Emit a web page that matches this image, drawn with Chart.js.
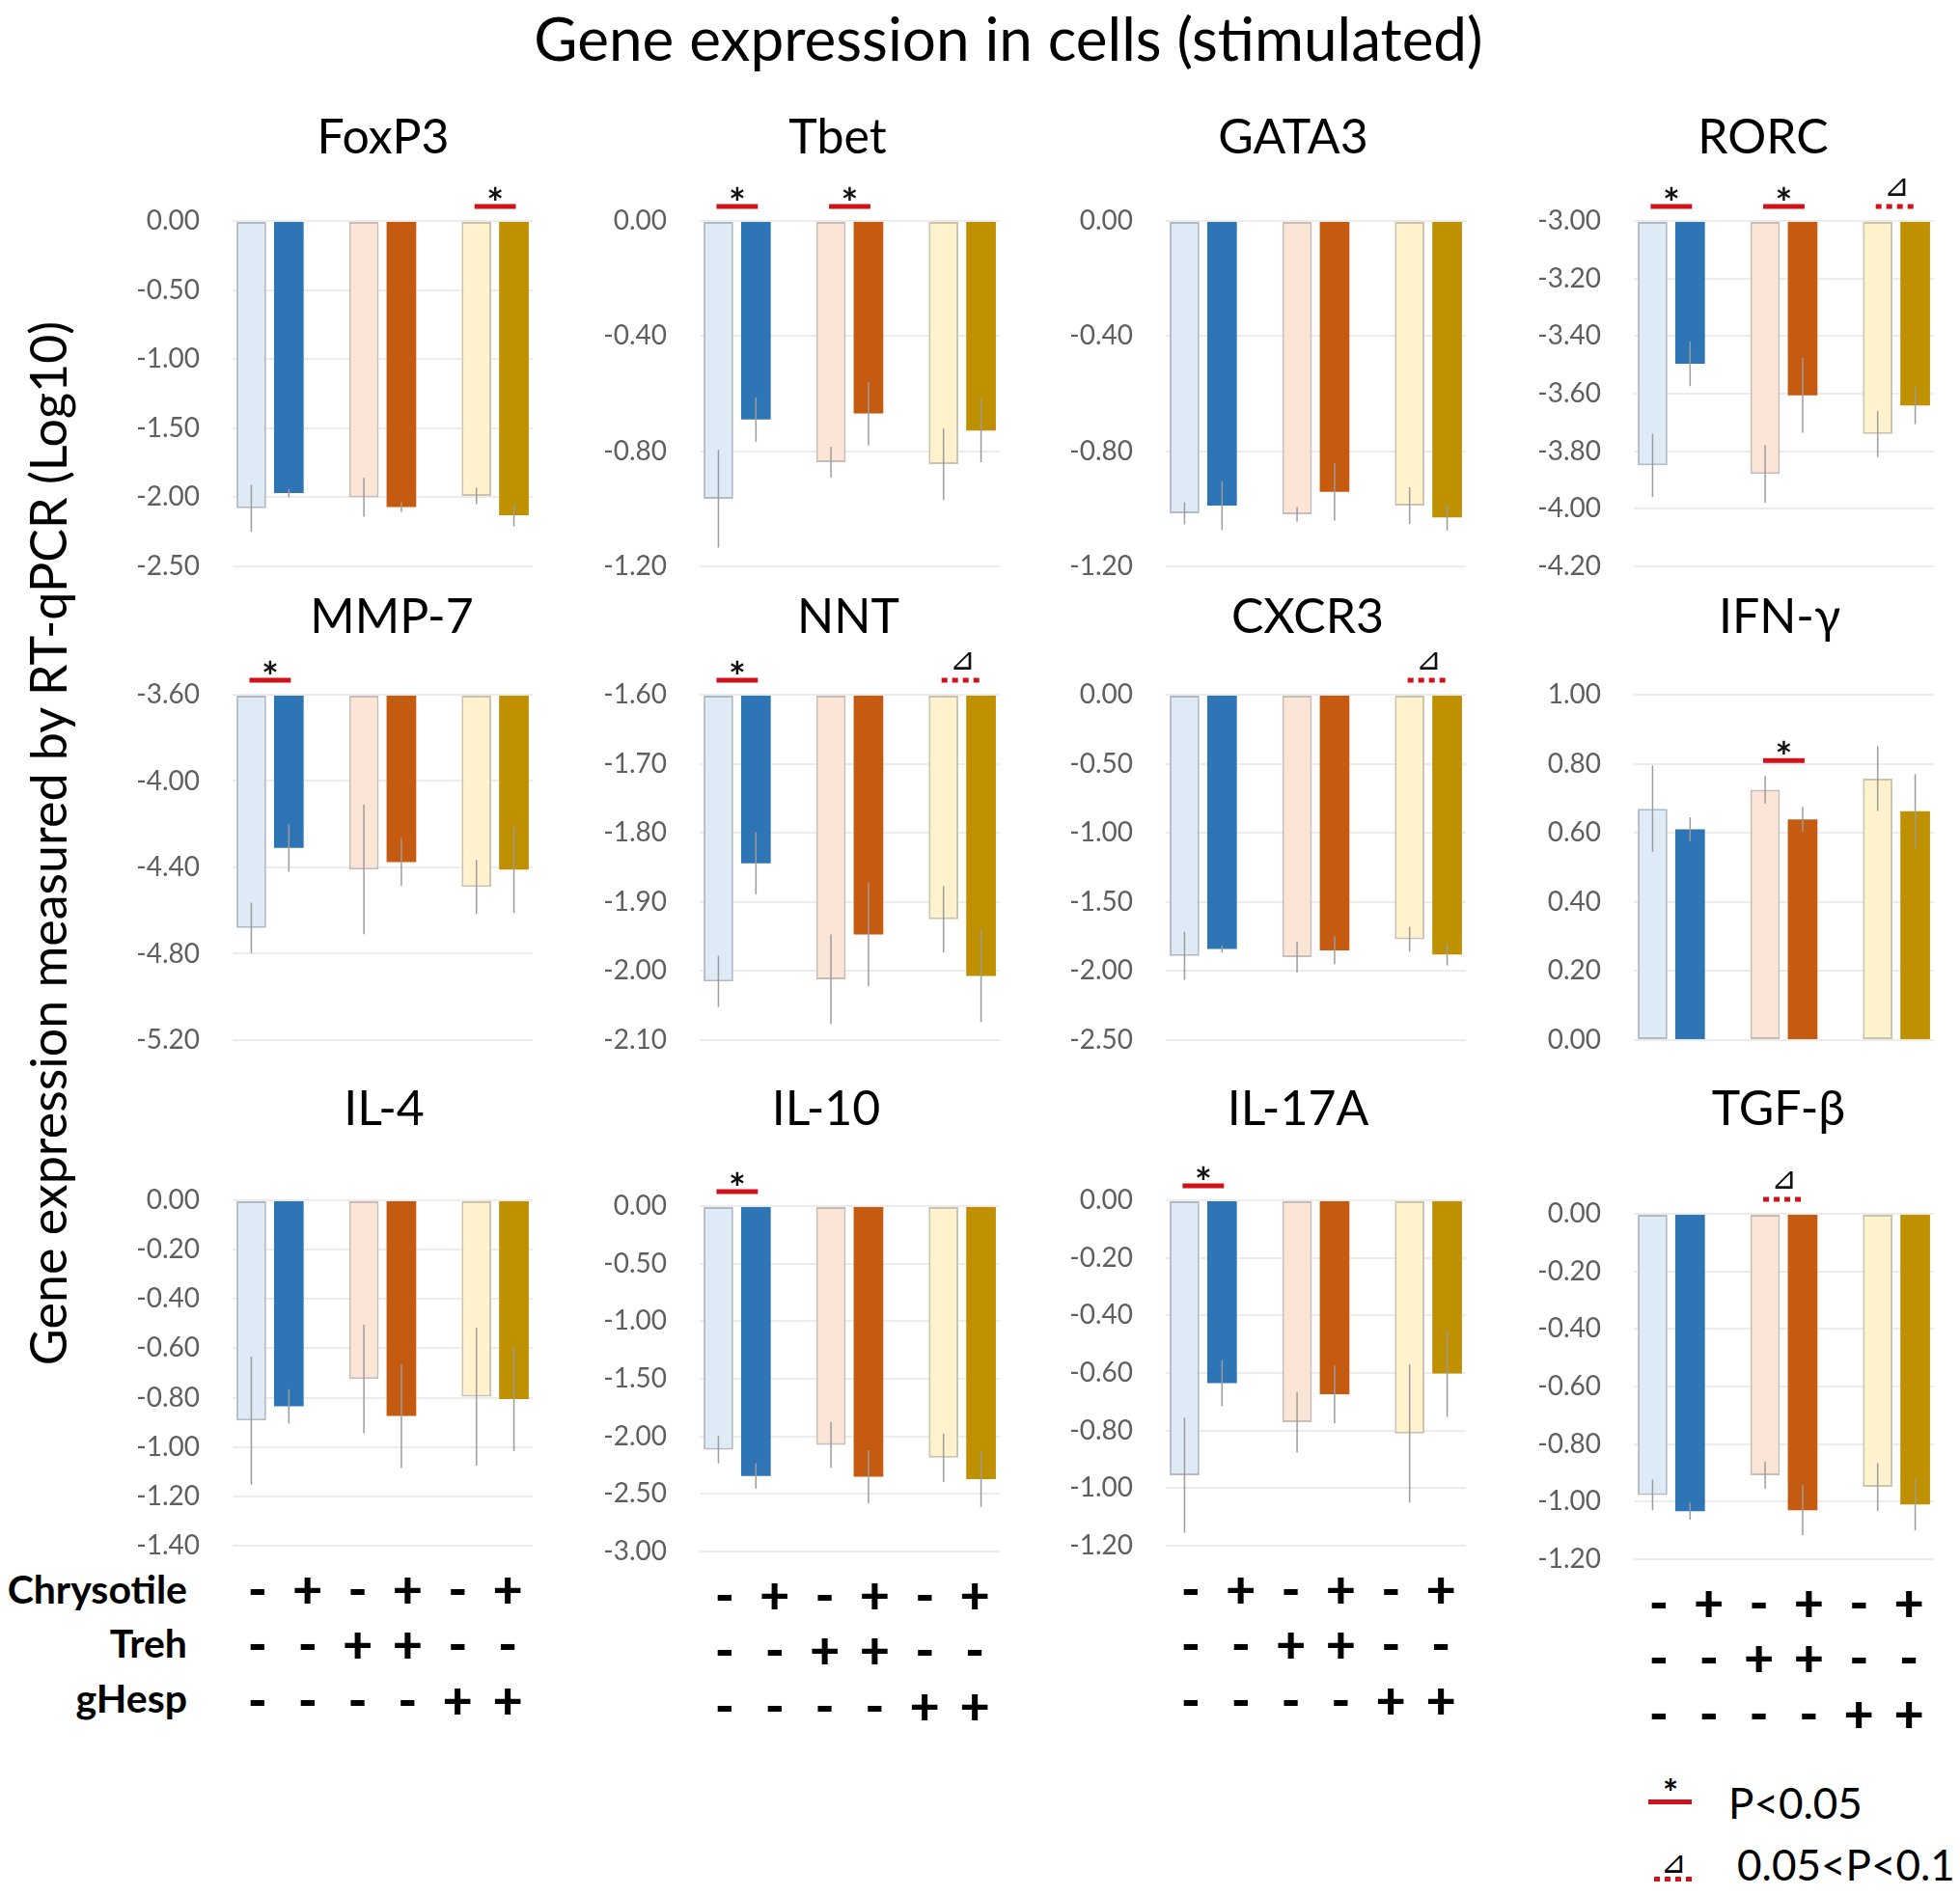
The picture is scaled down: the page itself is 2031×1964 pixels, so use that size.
<!DOCTYPE html>
<html>
<head>
<meta charset="utf-8">
<script src="https://cdn.jsdelivr.net/npm/chart.js@4.4.1/dist/chart.umd.min.js"></script>
<style>
  body { margin: 0; background: #fff; }
  #page { position: relative; width: 2031px; height: 1964px; overflow: hidden; font-family: Lato, 'Noto Sans', sans-serif; color: #000; }
  #page canvas { position: absolute; }
  .txt { position: absolute; white-space: nowrap; }
  .mid { transform: translate(-50%, -50%); }
  .rowlab { left: 0; width: 194px; text-align: right; font-weight: bold; font-size: 41px; height: 50px; line-height: 50px; }
</style>
</head>
<body>
<div id="page">
  <div class="txt mid" style="left:1045px; top:39px; font-size:62px;">Gene expression in cells (stimulated)</div>
  <div class="txt" style="left:49px; top:874px; font-size:52px; transform: translate(-50%, -50%) rotate(-90deg);">Gene expression measured by RT-qPCR (Log10)</div>

  <div class="txt rowlab" style="top:1622px;">Chrysotile</div>
  <div class="txt rowlab" style="top:1678px;">Treh</div>
  <div class="txt rowlab" style="top:1735px;">gHesp</div>

  <!-- legend -->
  <div class="txt" style="left:1708px; top:1865px; width:45px; height:5px; background:#d0121b;"></div>
  <div class="txt mid" style="left:1731px; top:1857px; font-size:38px; font-weight:bold;">*</div>
  <div class="txt" style="left:1791px; top:1868px; font-size:44px; transform: translateY(-50%);">P&lt;0.05</div>
  <div class="txt" style="left:1714px; top:1945px; width:42px; height:5px; background: repeating-linear-gradient(90deg, #d0121b 0 6px, transparent 6px 11px);"></div>
  <div class="txt mid" style="left:1734px; top:1930px; font-size:32px; font-family:'DejaVu Sans';">⊿</div>
  <div class="txt" style="left:1800px; top:1932px; font-size:44px; transform: translateY(-50%);">0.05&lt;P&lt;0.1</div>
</div>

<script>
// treatment combinations (one per bar)
const chrysotile = ['-', '+', '-', '+', '-', '+'];
const treh       = ['-', '-', '+', '+', '-', '-'];
const ghesp      = ['-', '-', '-', '-', '+', '+'];
const groupNames = ['Control', 'Treh', 'gHesp'];

// mean log10 expression and error, order: -/+ chrysotile for control, Treh, gHesp
const foxp3Mean = [-2.08, -1.97, -2.00, -2.07, -1.99, -2.13];
const foxp3Err  = [0.17, 0.03, 0.14, 0.035, 0.06, 0.08];
const foxp3Ticks = [0, -0.5, -1, -1.5, -2, -2.5];
const foxp3Sig = ['', '', '*'];

const tbetMean = [-0.965, -0.69, -0.838, -0.669, -0.845, -0.728];
const tbetErr  = [0.17, 0.077, 0.054, 0.11, 0.125, 0.11];
const tbetTicks = [0, -0.4, -0.8, -1.2];
const tbetSig = ['*', '*', ''];

const gata3Mean = [-1.016, -0.989, -1.019, -0.941, -0.989, -1.03];
const gata3Err  = [0.038, 0.085, 0.026, 0.1, 0.064, 0.045];
const gata3Ticks = [0, -0.4, -0.8, -1.2];
const gata3Sig = ['', '', ''];

const rorcMean = [-3.849, -3.496, -3.879, -3.606, -3.74, -3.641];
const rorcErr  = [0.11, 0.078, 0.10, 0.13, 0.08, 0.065];
const rorcTicks = [-3.0, -3.2, -3.4, -3.6, -3.8, -4.0, -4.2];
const rorcSig = ['*', '*', 'd'];

const mmp7Mean = [-4.68, -4.31, -4.41, -4.375, -4.49, -4.41];
const mmp7Err  = [0.117, 0.11, 0.30, 0.11, 0.125, 0.20];
const mmp7Ticks = [-3.6, -4.0, -4.4, -4.8, -5.2];
const mmp7Sig = ['*', '', ''];

const nntMean = [-2.015, -1.844, -2.012, -1.947, -1.925, -2.007];
const nntErr  = [0.037, 0.045, 0.065, 0.075, 0.048, 0.067];
const nntTicks = [-1.6, -1.7, -1.8, -1.9, -2.0, -2.1];
const nntSig = ['*', '', 'd'];

const cxcr3Mean = [-1.89, -1.84, -1.90, -1.85, -1.77, -1.88];
const cxcr3Err  = [0.174, 0.025, 0.11, 0.10, 0.09, 0.08];
const cxcr3Ticks = [0, -0.5, -1, -1.5, -2, -2.5];
const cxcr3Sig = ['', '', 'd'];

const ifngMean = [0.670, 0.610, 0.725, 0.639, 0.757, 0.663];
const ifngErr  = [0.125, 0.035, 0.04, 0.036, 0.094, 0.107];
const ifngTicks = [1.0, 0.8, 0.6, 0.4, 0.2, 0];
const ifngSig = ['', '*', ''];

const il4Mean = [-0.893, -0.835, -0.724, -0.874, -0.796, -0.806];
const il4Err  = [0.26, 0.07, 0.22, 0.21, 0.28, 0.21];
const il4Ticks = [0, -0.2, -0.4, -0.6, -0.8, -1.0, -1.2, -1.4];
const il4Sig = ['', '', ''];

const il10Mean = [-2.115, -2.344, -2.074, -2.35, -2.185, -2.372];
const il10Err  = [0.12, 0.11, 0.2, 0.23, 0.21, 0.24];
const il10Ticks = [0, -0.5, -1, -1.5, -2, -2.5, -3];
const il10Sig = ['*', '', ''];

const il17aMean = [-0.955, -0.635, -0.771, -0.674, -0.81, -0.602];
const il17aErr  = [0.2, 0.08, 0.105, 0.1, 0.24, 0.15];
const il17aTicks = [0, -0.2, -0.4, -0.6, -0.8, -1.0, -1.2];
const il17aSig = ['*', '', ''];

const tgfbMean = [-0.977, -1.033, -0.908, -1.03, -0.949, -1.01];
const tgfbErr  = [0.053, 0.03, 0.047, 0.087, 0.083, 0.09];
const tgfbTicks = [0, -0.2, -0.4, -0.6, -0.8, -1.0, -1.2];
const tgfbSig = ['', 'd', ''];

const panels = [
  { name: 'FoxP3', mean: foxp3Mean, err: foxp3Err, ticks: foxp3Ticks, sig: foxp3Sig },
  { name: 'Tbet', mean: tbetMean, err: tbetErr, ticks: tbetTicks, sig: tbetSig },
  { name: 'GATA3', mean: gata3Mean, err: gata3Err, ticks: gata3Ticks, sig: gata3Sig },
  { name: 'RORC', mean: rorcMean, err: rorcErr, ticks: rorcTicks, sig: rorcSig },
  { name: 'MMP-7', mean: mmp7Mean, err: mmp7Err, ticks: mmp7Ticks, sig: mmp7Sig },
  { name: 'NNT', mean: nntMean, err: nntErr, ticks: nntTicks, sig: nntSig },
  { name: 'CXCR3', mean: cxcr3Mean, err: cxcr3Err, ticks: cxcr3Ticks, sig: cxcr3Sig },
  { name: 'IFN-γ', mean: ifngMean, err: ifngErr, ticks: ifngTicks, sig: ifngSig },
  { name: 'IL-4', mean: il4Mean, err: il4Err, ticks: il4Ticks, sig: il4Sig },
  { name: 'IL-10', mean: il10Mean, err: il10Err, ticks: il10Ticks, sig: il10Sig },
  { name: 'IL-17A', mean: il17aMean, err: il17aErr, ticks: il17aTicks, sig: il17aSig },
  { name: 'TGF-β', mean: tgfbMean, err: tgfbErr, ticks: tgfbTicks, sig: tgfbSig }
];

// bar slots: two bars per group, an empty slot between groups
const slotOf = [0, 1, 3, 4, 6, 7];
const SLOTS = 8;

const fills   = ['#deebf7', '#2e75b6', '#fbe5d6', '#c55a11', '#fff2cc', '#bf9000'];
const strokes = ['#b2bac6', '#2e75b6', '#c9bdb5', '#c55a11', '#cbc4ad', '#bf9000'];
const strokeW = [2, 0, 2, 0, 2, 0];
const RED = '#d0121b';

// page layout
const plotLeft = [241, 725, 1208, 1693];
const plotTop = [229, 229, 229, 229, 720, 720, 720, 720, 1244, 1250, 1244, 1258];
const titleX = [397, 868, 1340, 1827, 406, 879, 1355, 1844, 398, 856, 1345, 1843];
const titleY = [143, 640, 1150];
// PAD_BOTTOM covers the half-height of the lowest y label plus tick padding
const PLOT_W = 311, PLOT_H = 358, AXIS_W = 112, PAD_TOP = 140, PAD_RIGHT = 6, PAD_BOTTOM = 52, X_H = 190;

Chart.defaults.font.family = 'Lato, "Noto Sans", sans-serif';
Chart.defaults.animation = false;

const page = document.getElementById('page');

function spread(values, blank) {
  const out = new Array(SLOTS).fill(blank);
  values.forEach((v, k) => { out[slotOf[k]] = v; });
  return out;
}

// the +/- table under the bottom row, evenly spaced like the original
const comboLabels = chrysotile.map((c, k) => [c, treh[k], ghesp[k]]);

panels.forEach((p, i) => {
  const col = i % 4, row = Math.floor(i / 4);
  const bottomRow = row === 2;
  const left = plotLeft[col] - AXIS_W;
  const top = plotTop[i] - PAD_TOP;
  const width = AXIS_W + PLOT_W + PAD_RIGHT;
  const height = PAD_TOP + PLOT_H + (bottomRow ? X_H : PAD_BOTTOM);

  const canvas = document.createElement('canvas');
  canvas.width = width;
  canvas.height = height;
  canvas.style.left = left + 'px';
  canvas.style.top = top + 'px';
  canvas.style.width = width + 'px';
  canvas.style.height = height + 'px';
  page.appendChild(canvas);

  const yMin = Math.min(...p.ticks), yMax = Math.max(...p.ticks);
  const base = yMax <= 0 ? yMax : 0;

  const extras = {
    id: 'extras',
    afterDatasetsDraw(chart) {
      const ctx = chart.ctx, ys = chart.scales.y;
      const bars = chart.getDatasetMeta(0).data;
      ctx.save();
      // error bars
      ctx.strokeStyle = '#9c9c9c';
      ctx.lineWidth = 1.5;
      p.mean.forEach((m, k) => {
        const b = bars[slotOf[k]];
        ctx.beginPath();
        ctx.moveTo(b.x, ys.getPixelForValue(m - p.err[k]));
        ctx.lineTo(b.x, ys.getPixelForValue(m + p.err[k]));
        ctx.stroke();
      });
      // significance marks
      p.sig.forEach((s, g) => {
        if (!s) return;
        const a = bars[slotOf[2 * g]], b = bars[slotOf[2 * g + 1]];
        let topPx = Infinity;
        [2 * g, 2 * g + 1].forEach(k => {
          const e = bars[slotOf[k]];
          topPx = Math.min(topPx, e.y, e.base, ys.getPixelForValue(p.mean[k] + p.err[k]));
        });
        const ly = topPx - 16;
        ctx.strokeStyle = RED;
        ctx.lineWidth = 5;
        ctx.setLineDash(s === '*' ? [] : [6, 5]);
        ctx.beginPath();
        ctx.moveTo(a.x - 2, ly);
        ctx.lineTo(b.x + 2, ly);
        ctx.stroke();
        ctx.setLineDash([]);
        ctx.fillStyle = '#111';
        ctx.textAlign = 'center';
        ctx.textBaseline = 'middle';
        if (s === '*') {
          ctx.font = 'bold 42px Lato';
          ctx.fillText('*', (a.x + b.x) / 2, ly - 2);
        } else {
          ctx.font = '32px "DejaVu Sans"';
          ctx.fillText('⊿', (a.x + b.x) / 2, ly - 19);
        }
      });
      ctx.restore();
    },
    afterDraw(chart) {
      const ctx = chart.ctx;
      ctx.save();
      ctx.font = '50px Lato';
      ctx.fillStyle = '#000';
      ctx.textAlign = 'center';
      ctx.textBaseline = 'middle';
      ctx.fillText(p.name, titleX[i] - left, titleY[row] - top);
      ctx.restore();
    }
  };

  const comboAxis = {
    type: 'category',
    labels: comboLabels,
    position: 'bottom',
    offset: true,
    display: bottomRow,
    grid: { display: false },
    border: { display: false },
    ticks: {
      autoSkip: false,
      maxRotation: 0,
      color: '#000',
      padding: 10,
      font: { size: 54, weight: 900, lineHeight: 1.06 }
    }
  };
  if (bottomRow) comboAxis.afterFit = scale => { scale.height = X_H; };

  new Chart(canvas, {
    type: 'bar',
    data: {
      labels: spread([0, 0, 1, 1, 2, 2].map(g => groupNames[g]), ''),
      datasets: [{
        data: spread(p.mean, null),
        backgroundColor: spread(fills, 'rgba(0,0,0,0)'),
        borderColor: spread(strokes, 'rgba(0,0,0,0)'),
        borderWidth: spread(strokeW, 0),
        borderSkipped: false,
        base: base,
        barPercentage: 0.79,
        categoryPercentage: 1
      }]
    },
    options: {
      responsive: false,
      devicePixelRatio: 1,
      layout: { padding: { top: PAD_TOP, right: PAD_RIGHT, bottom: bottomRow ? 0 : PAD_BOTTOM, left: 0 } },
      plugins: { legend: { display: false }, tooltip: { enabled: false }, title: { display: false } },
      scales: {
        x: { display: false },
        combo: comboAxis,
        y: {
          min: yMin,
          max: yMax,
          grid: { color: '#ececec', lineWidth: 2, drawTicks: false },
          border: { display: false },
          ticks: {
            autoSkip: false,
            color: '#5f5f5f',
            padding: 34,
            font: { size: 28 },
            callback: v => v.toFixed(2)
          },
          afterBuildTicks(scale) { scale.ticks = p.ticks.map(v => ({ value: v })); },
          afterFit(scale) { scale.width = AXIS_W; }
        }
      }
    },
    plugins: [extras]
  });
});
</script>
</body>
</html>
